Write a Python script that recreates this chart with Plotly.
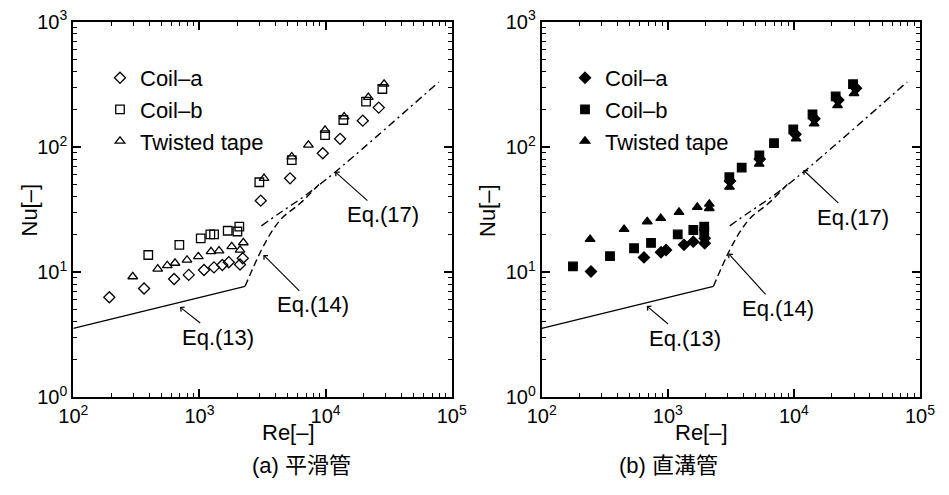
import math
import plotly.graph_objects as go

# ---------------- data ----------------
# (a) smooth tube
a_coil_a_re = [193, 364, 630, 823, 1087, 1304, 1519, 1708, 2098, 2205, 3062, 5228, 9508, 13035, 19724, 26400]
a_coil_a_nu = [6.3, 7.4, 8.8, 9.5, 10.4, 10.9, 11.4, 12.0, 11.5, 12.9, 37.2, 56.1, 88.9, 116, 162, 206]
a_coil_b_re = [393, 693, 1024, 1220, 1306, 1676, 2000, 2071, 2985, 5395, 9904, 13830, 20940, 28200]
a_coil_b_nu = [13.7, 16.5, 18.6, 20.0, 20.0, 21.4, 21.1, 23.1, 52.2, 78.5, 124, 164, 230, 290]
a_tape_re = [296, 467, 556, 640, 797, 980, 1236, 1430, 1803, 2098, 2228, 3252, 5395, 7311, 9904, 14030, 21830, 29100]
a_tape_nu = [9.2, 10.6, 11.3, 11.8, 12.5, 13.3, 14.6, 14.8, 16.0, 15.0, 17.2, 56.1, 83.5, 103.6, 136, 174, 249, 318]

# (b) grooved tube
b_coil_a_re = [246, 647, 883, 968, 1344, 1592, 1962, 1962, 3113, 5360, 10300, 14550, 22490, 31100]
b_coil_a_nu = [10.1, 13.1, 14.4, 15.0, 16.5, 17.5, 17.0, 18.6, 53.4, 80, 126, 168, 237, 294]
b_coil_b_re = [177, 348, 540, 736, 1199, 1594, 1945, 1945, 3076, 3855, 5320, 6954, 9883, 14050, 21440, 29420]
b_coil_b_nu = [11.1, 13.4, 15.5, 17.1, 20.0, 21.7, 23.1, 21.0, 57.2, 68.4, 85.7, 107, 138, 182, 253, 317]
b_tape_re = [242, 450, 687, 879, 1227, 1714, 2134, 2134, 3084, 5306, 10420, 14480, 22180, 29980]
b_tape_nu = [18.3, 22.0, 25.3, 26.9, 30.1, 33.0, 35.0, 32.3, 47.8, 72.9, 116, 153, 214, 267]

# correlation curves (same in both panels)
eq13_re = [100, 2300]
eq13_nu = [3.56, 7.7]
eq14_re = [2300, 3100, 3850, 4600, 6300, 9000]
eq14_nu = [7.7, 15.0, 22.0, 27.5, 35.5, 51]
eq17_re = [3100, 4300, 6700, 12000, 79000]
eq17_nu = [23.4, 29.5, 40, 63.4, 330]

major_vals = [1, 10, 100, 1000, 10000, 100000]
major_text = ["10<sup>0</sup>", "10<sup>1</sup>", "10<sup>2</sup>", "10<sup>3</sup>",
              "10<sup>4</sup>", "10<sup>5</sup>"]
minor_vals = [m * 10 ** e for e in range(0, 5) for m in range(2, 10)]

series_names = ["Coil\u2013a", "Coil\u2013b", "Twisted tape"]
captions = ["(a) 平滑管", "(b) 直溝管"]

FONT = "Liberation Sans, Arial, Noto Sans CJK JP, sans-serif"
OFF = 8  # page body margin of the html page
W, H = 949 - 2 * OFF, 495 - 2 * OFF


def px_x(x):
    return (x - OFF) / W


def px_y(y):
    return 1 - (y - OFF) / H


fig = go.Figure()

panels = [
    ("x", "y", "legend", [(a_coil_a_re, a_coil_a_nu), (a_coil_b_re, a_coil_b_nu), (a_tape_re, a_tape_nu)], False),
    ("x2", "y2", "legend2", [(b_coil_a_re, b_coil_a_nu), (b_coil_b_re, b_coil_b_nu), (b_tape_re, b_tape_nu)], True),
]
symbols_open = ["diamond-open", "square-open", "triangle-up-open"]
symbols_fill = ["diamond", "square", "triangle-up"]
sizes = [8.5, 8.5, 8.5]

for xa, ya, leg, data, filled in panels:
    for i, (re, nu) in enumerate(data):
        fig.add_trace(go.Scatter(
            x=re, y=nu, mode="markers", name=series_names[i],
            xaxis=xa, yaxis=ya, legend=leg,
            marker=dict(symbol=(symbols_fill if filled else symbols_open)[i],
                        size=sizes[i], color="black",
                        line=dict(color="black", width=1.3)),
        ))
    fig.add_trace(go.Scatter(x=eq13_re, y=eq13_nu, mode="lines", showlegend=False,
                             xaxis=xa, yaxis=ya, line=dict(color="black", width=1.3)))
    fig.add_trace(go.Scatter(x=eq14_re, y=eq14_nu, mode="lines", showlegend=False,
                             xaxis=xa, yaxis=ya, line_shape="spline",
                             line=dict(color="black", width=1.4, dash="7px,4px")))
    fig.add_trace(go.Scatter(x=eq17_re, y=eq17_nu, mode="lines", showlegend=False,
                             xaxis=xa, yaxis=ya, line_shape="spline",
                             line=dict(color="black", width=1.4, dash="8px,4px,2px,4px")))

axis_common = dict(
    type="log", showgrid=False, zeroline=False, automargin=False,
    showline=True, linecolor="black", linewidth=2, mirror="ticks",
    ticks="inside", ticklen=8, tickwidth=1.5, tickcolor="black",
    tickmode="array", tickvals=major_vals, ticktext=major_text,
    ticklabeloverflow="allow",
    tickfont=dict(family=FONT, size=20, color="black"),
    minor=dict(ticks="inside", ticklen=4, tickwidth=1.2, tickcolor="black",
               tickmode="array", tickvals=minor_vals, showgrid=False),
)

y_dom = [px_y(397.3), px_y(21.7)]
fig.update_layout(
    width=W, height=H,
    margin=dict(l=0, r=0, t=0, b=0, autoexpand=False),
    paper_bgcolor="white", plot_bgcolor="white",
    font=dict(family=FONT, size=20, color="black"),
    xaxis=dict(axis_common, range=[2, 5], domain=[px_x(73.3), px_x(451.7)], anchor="y"),
    yaxis=dict(axis_common, range=[0, 3], domain=y_dom, anchor="x"),
    xaxis2=dict(axis_common, range=[2, 5], domain=[px_x(541.7), px_x(920)], anchor="y2"),
    yaxis2=dict(axis_common, range=[0, 3], domain=y_dom, anchor="x2"),
    legend=dict(x=px_x(100), y=px_y(57), xanchor="left", yanchor="top",
                bgcolor="rgba(0,0,0,0)", font=dict(family=FONT, size=22),
                tracegroupgap=0, itemwidth=30),
    legend2=dict(x=px_x(565), y=px_y(57), xanchor="left", yanchor="top",
                 bgcolor="rgba(0,0,0,0)", font=dict(family=FONT, size=22),
                 tracegroupgap=0, itemwidth=30),
)

# equation labels with arrows: (axis, tip Re, tip Nu, text, dx, dy)
eq_labels = [
    ("x", "y", 701, 5.26, "Eq.(13)", 38, 30),
    ("x", "y", 3213, 13.7, "Eq.(14)", 50, 50),
    ("x", "y", 11890, 63.4, "Eq.(17)", 48, 43),
    ("x2", "y2", 681, 5.36, "Eq.(13)", 38, 32),
    ("x2", "y2", 3020, 14.1, "Eq.(14)", 50, 55),
    ("x2", "y2", 11880, 65.3, "Eq.(17)", 50, 47),
]
for xa, ya, re, nu, txt, dx, dy in eq_labels:
    fig.add_annotation(xref=xa, yref=ya, x=math.log10(re), y=math.log10(nu),
                       text=txt, showarrow=True, arrowhead=4, arrowsize=1,
                       arrowwidth=1.1, arrowcolor="black", ax=dx, ay=dy,
                       font=dict(family=FONT, size=22, color="black"))

# axis titles and captions
for cx, cap, nux in [(260, captions[0], 15), (730, captions[1], 488)]:
    fig.add_annotation(xref="paper", yref="paper", x=px_x(cx), y=px_y(447),
                       text="Re[\u2013]", showarrow=False,
                       font=dict(family=FONT, size=22, color="black"))
    fig.add_annotation(xref="paper", yref="paper", x=px_x(cx - 10), y=px_y(480),
                       text=cap, showarrow=False,
                       font=dict(family=FONT, size=22, color="black"))
    fig.add_annotation(xref="paper", yref="paper", x=px_x(nux), y=px_y(210),
                       text="Nu[\u2013]", showarrow=False, textangle=-90,
                       font=dict(family=FONT, size=22, color="black"))

fig.write_html("out.html")
